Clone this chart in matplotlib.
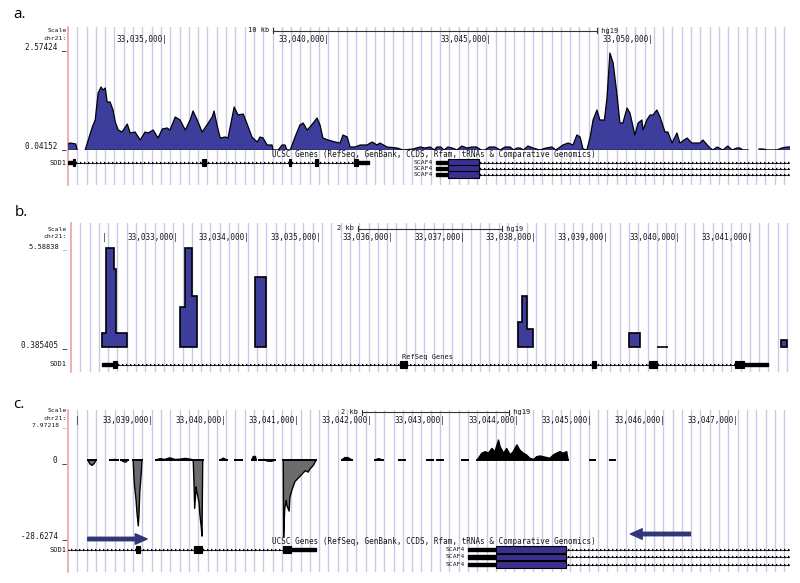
import numpy as np
import matplotlib
matplotlib.use("Agg")
import matplotlib.pyplot as plt
from matplotlib.patches import Rectangle, Polygon

nan = np.nan

# ---------------- panel a: coverage, chr21 position (kb) and signal ----------------
a_pos = [33031.94, 33032.01, 33032.18, 33032.22, 33032.30, 33032.47, 33032.69, 33032.78,
         33032.87, 33032.96, 33033.02, 33033.09, 33033.15, 33033.24, 33033.33, 33033.40,
         33033.49, 33033.61, 33033.77, 33033.86, 33034.01, 33034.17, 33034.32, 33034.41,
         33034.57, 33034.72, 33034.85, 33035.00, 33035.09, 33035.25, 33035.40, 33035.56,
         33035.71, 33035.80, 33035.93, 33036.08, 33036.23, 33036.39, 33036.45, 33036.54,
         33036.64, 33036.79, 33036.88, 33037.01, 33037.07, 33037.19, 33037.35, 33037.47,
         33037.62, 33037.78, 33037.87, 33037.96, 33038.09, 33038.24, 33038.27, 33038.43,
         33038.55, 33038.64, 33038.70, 33038.80, 33038.95, 33039.10, 33039.20, 33039.32,
         33039.41, 33039.51, 33039.63, 33039.72, 33039.81, 33039.97, 33040.19, 33040.34,
         33040.43, 33040.56, 33040.65, 33040.80, 33040.96, 33041.17, 33041.33, 33041.48,
         33041.57, 33041.79, 33042.10, 33042.28, 33042.59, 33042.81, 33042.96, 33043.12,
         33043.25, 33043.33, 33043.45, 33043.55, 33043.67, 33043.80, 33043.95, 33044.10,
         33044.25, 33044.41, 33044.55, 33044.70, 33044.81, 33044.95, 33045.12, 33045.28,
         33045.43, 33045.59, 33045.70, 33045.80, 33045.90, 33046.00, 33046.14, 33046.30,
         33046.50, 33046.70, 33046.88, 33047.00, 33047.22, 33047.38, 33047.53, 33047.65,
         33047.75, 33047.84, 33047.96, 33048.06, 33048.15, 33048.27, 33048.36, 33048.50,
         33048.58, 33048.67, 33048.77, 33048.89, 33048.98, 33049.07, 33049.20, 33049.29,
         33049.44, 33049.54, 33049.66, 33049.69, 33049.81, 33049.91, 33050.00, 33050.12,
         33050.22, 33050.37, 33050.46, 33050.59, 33050.74, 33050.83, 33051.05, 33051.20,
         33051.45, 33051.54, 33051.76, 33051.85, 33051.98, 33052.16, 33052.31, 33052.44,
         33052.59, 33052.68, 33052.78, 33052.93, 33053.10, 33053.27, 33053.40, 33053.52,
         33053.83, 33053.98, 33054.14, 33054.23]
a_val = [0.15, 0.175, 0.15, 0.0, nan, 0.0, 0.575, 0.75,
         1.425, 1.575, 1.5, 1.55, 1.2, 1.2, 1.0, 0.7,
         0.5, 0.45, 0.65, 0.425, 0.45, 0.25, 0.45, 0.425,
         0.5, 0.3, 0.525, 0.55, 0.5, 0.825, 0.75, 0.5,
         0.75, 0.975, 0.75, 0.45, 0.625, 0.825, 0.975, 0.625,
         0.3, 0.325, 0.3, 0.825, 1.075, 0.875, 0.9, 0.65,
         0.325, 0.2, 0.325, 0.3, 0.125, 0.125, 0.0, 0.0,
         0.125, 0.125, 0.0, 0.0, 0.325, 0.625, 0.675, 0.5,
         0.575, 0.675, 0.8, 0.625, 0.3, 0.25, 0.2, 0.175,
         0.375, 0.325, 0.075, 0.075, 0.125, 0.125, 0.2, 0.125,
         0.175, 0.075, 0.05, 0.0, 0.025, 0.075, 0.05, 0.075,
         0.0, 0.075, 0.075, 0.0, 0.075, 0.05, 0.0, 0.1,
         0.05, 0.075, 0.075, 0.0, 0.0, 0.075, 0.075, 0.0,
         0.075, 0.075, 0.0, 0.05, 0.05, 0.0, 0.1, 0.05,
         0.0, 0.05, 0.075, 0.0, 0.125, 0.175, 0.125, 0.375,
         0.325, 0.025, 0.0, 0.325, 0.75, 1.0, 0.75, 0.75,
         1.3, 2.425, 2.175, 1.375, 0.675, 0.675, 1.05, 0.925,
         0.375, 0.675, 0.75, 0.5, 0.75, 0.875, 0.875, 1.0,
         0.825, 0.45, 0.45, 0.175, 0.425, 0.175, 0.3, 0.175,
         0.175, 0.25, 0.05, 0.0, 0.075, 0.0, 0.1, 0.0,
         0.05, 0.05, 0.0, 0.0, nan, 0.025, 0.025, 0.0,
         0.0, 0.05, 0.075, 0.075]
a_ticks = [33035, 33040, 33045, 33050]

# ---------------- panel b: read blocks (kb) ----------------
b_start = [33031.94, 33032.00, 33032.11, 33032.14, 33033.03, 33033.10, 33033.20,
           33034.08, 33037.74, 33037.79, 33037.86, 33039.28, 33039.67, 33041.40]
b_end = [33032.00, 33032.11, 33032.14, 33032.29, 33033.10, 33033.20, 33033.27,
         33034.23, 33037.79, 33037.86, 33037.95, 33039.44, 33039.83, 33041.49]
b_val = [1.12, 5.58, 4.48, 1.12, 2.49, 5.58, 3.07,
         4.06, 1.70, 3.07, 1.33, 1.12, 0.385405, 0.75]
b_ticks = [33033, 33034, 33035, 33036, 33037, 33038, 33039, 33040, 33041]

# ---------------- panel c: signed signal (kb) ----------------
c_pos = [33038.11, 33038.14, 33038.17, 33038.20, 33038.22, 33038.30, 33038.41, 33038.48,
         33038.52, 33038.54, 33038.56, 33038.60, 33038.63, 33038.66, 33038.70, 33038.73,
         33038.74, 33038.75, 33038.77, 33038.78, 33038.80, 33038.81, 33038.82, 33038.84,
         33038.85, 33038.95, 33039.04, 33039.10, 33039.16, 33039.23, 33039.30, 33039.37,
         33039.44, 33039.51, 33039.55, 33039.56, 33039.57, 33039.59, 33039.60, 33039.61,
         33039.63, 33039.64, 33039.66, 33039.67, 33039.68, 33039.80, 33039.92, 33039.96,
         33040.01, 33040.06, 33040.12, 33040.22, 33040.28, 33040.35, 33040.37, 33040.40,
         33040.41, 33040.43, 33040.45, 33040.52, 33040.56, 33040.62, 33040.67, 33040.72,
         33040.78, 33040.785, 33040.79, 33040.80, 33040.82, 33040.83, 33040.86, 33040.87,
         33040.90, 33040.94, 33041.01, 33041.08, 33041.12, 33041.14, 33041.19, 33041.21,
         33041.23, 33041.40, 33041.58, 33041.62, 33041.66, 33041.72, 33041.90, 33042.03,
         33042.08, 33042.14, 33042.25, 33042.36, 33042.44, 33042.60, 33042.74, 33042.83,
         33042.855, 33042.88, 33042.96, 33043.10, 33043.22, 33043.30, 33043.36, 33043.43,
         33043.49, 33043.54, 33043.58, 33043.63, 33043.67, 33043.72, 33043.74, 33043.79,
         33043.83, 33043.88, 33043.92, 33043.97, 33044.01, 33044.06, 33044.10, 33044.15,
         33044.20, 33044.24, 33044.29, 33044.33, 33044.38, 33044.42, 33044.47, 33044.51,
         33044.56, 33044.60, 33044.65, 33044.67, 33044.80, 33044.97, 33045.04, 33045.14,
         33045.24, 33045.31]
c_val = [0, -1.5, -2.0, -1.2, 0, nan, 0, 0.2,
         0, nan, 0, -0.6, -0.8, 0, nan, 0,
         -6, -10, -15, -19, -24.5, -20, -12, -5,
         0, nan, 0, 0.5, 0.2, 0.8, 0.2, 0.3,
         0.6, 0.3, 0, -8, -18, -10, -12, -13,
         -16, -20, -25, -28.3, 0, nan, 0, 0.7,
         0, nan, 0, 0, nan, 0, 1.3, 1.3,
         0, nan, 0, 0.2, -0.4, -0.5, 0, nan,
         0, -28.6, -25, -18, -15, -17, -19, -14,
         -11, -8, -6, -4, -4.5, -3.5, -2, -1,
         0, nan, 0, 0.9, 0.9, 0, nan, 0,
         0.5, 0, nan, 0, 0, nan, 0, 0,
         nan, 0, 0, nan, 0, 0, nan, 0,
         2.5, 3.1, 2.5, 4.3, 3.1, 7.4, 5.0, 2.5,
         4.3, 1.9, 3.1, 5.6, 3.7, 2.5, 1.9, 0.6,
         0.2, 1.2, 1.5, 1.2, 0.9, 0.6, 1.9, 2.5,
         3.1, 2.5, 3.1, 0, nan, 0, 0, nan,
         0, 0]
c_ticks = [33039, 33040, 33041, 33042, 33043, 33044, 33045, 33046, 33047]

# ---------------- gene models (kb) ----------------
sod1_ex_start = [33031.94, 33036.09, 33038.77, 33039.56, 33040.77]
sod1_ex_end = [33032.15, 33036.19, 33038.83, 33039.67, 33041.22]
sod1_cds = [33032.10, 33040.89]
scaf4_ex_start = [33043.30]
scaf4_ex_end = [33044.64]
scaf4_cds = [33043.68, 33060.0]
scaf4_end = 33060.0

MONO = "DejaVu Sans Mono"
FS_L = 5.5    # single-row labels (coordinates, track titles)
FS = 5.0      # scale bar
FS_S = 4.6    # stacked labels
TXT = "#161616"
GRID = "#c9c9e6"
BLUE = "#3d3d9c"
NAVY = "#2f3777"
W, H = 800, 583

fig = plt.figure(figsize=(8, 5.83), dpi=100)
fig.patch.set_facecolor("white")


def px_axes(x0, y0, x1, y1):
    ax = fig.add_axes([x0 / W, 1 - y1 / H, (x1 - x0) / W, (y1 - y0) / H])
    ax.set_axis_off()
    ax.patch.set_alpha(0)
    return ax


def ftext(x, y, s, size=FS_S):
    fig.text(x / W, 1 - y / H, s, family=MONO, size=size, color=TXT, ha="right", va="center")


def frame(x0, x1, y0, y1, kb0, kb1):
    bg = px_axes(x0, y0, x1, y1)
    bg.set_xlim(kb0, kb1)
    bg.set_ylim(y1, y0)
    step = 9.3 * (kb1 - kb0) / (x1 - x0)
    for g in np.arange(kb0 + step, kb1, step):
        bg.axvline(g, color=GRID, lw=1, zorder=0)
    bg.axvline(kb0, color="#e6a3a3", lw=1.2, zorder=0, clip_on=False)
    return bg


def gene(ax, ex_s, ex_e, cds, y, end, cds_color="black"):
    ax.plot([ex_s[0], end], [y, y], color="black", lw=0.6, zorder=2)
    ax.plot([ex_s[0], end], [y, y], color="black", lw=1.6, ls=(0, (0.6, 1.2)), zorder=2)
    for s, e in zip(ex_s, ex_e):
        ax.add_patch(Rectangle((s, y - 1.7), e - s, 3.4, color="black", zorder=3))
        cs, ce = max(s, cds[0]), min(e, cds[1])
        if ce > cs:
            ax.add_patch(Rectangle((cs, y - 3.2), ce - cs, 6.4, fc=cds_color,
                                   ec="black", lw=0.8, zorder=4))


def scale_bar(ax, kb0, kb1, y, label):
    ax.plot([kb0, kb1], [y, y], color="#333333", lw=0.8)
    ax.plot([kb0, kb0], [y - 2.5, y + 2.5], color="#333333", lw=0.8)
    ax.plot([kb1, kb1], [y - 2.5, y + 2.5], color="#333333", lw=0.8)
    ax.text(kb0, y, label + " ", family=MONO, size=FS, color=TXT, ha="right", va="center")
    ax.text(kb1, y, " hg19", family=MONO, size=FS, color=TXT, ha="left", va="center")


def coords(ax, ticks, y):
    for t in ticks:
        ax.text(t, y, f"{t * 1000:,.0f}|", family=MONO, size=FS_L, color=TXT,
                ha="right", va="center")


UCSC = "UCSC Genes (RefSeq, GenBank, CCDS, Rfam, tRNAs & Comparative Genomics)"

# =============== panel a ===============
fig.text(13 / W, 1 - 15 / H, "a.", family="Open Sans", size=11, ha="left", va="center")
bg = frame(68, 790, 27, 185, 33031.94, 33054.23)
ftext(67, 31, "Scale")
ftext(67, 38, "chr21:")
ftext(67, 47, "2.57424 _", FS_L)
ftext(67, 146, "0.04152 _", FS_L)
ftext(67, 163, "SOD1", FS)
scale_bar(bg, 33038.27, 33048.27, 30.5, "10 kb")
coords(bg, a_ticks, 39)
bg.text(33043.24, 154.5, UCSC, family=MONO, size=FS_L, color=TXT, ha="center", va="center")
gene(bg, sod1_ex_start, sod1_ex_end, sod1_cds, 162.5, sod1_ex_end[-1])
for row in [162.5, 168.5, 174.5]:
    gene(bg, scaf4_ex_start, scaf4_ex_end, scaf4_cds, row, scaf4_end, cds_color="#3b2f8f")
    bg.text(33043.22, row, "SCAF4", family=MONO, size=FS_S, color=TXT, ha="right", va="center")

sa = px_axes(68, 46, 790, 150)
sa.set_xlim(33031.94, 33054.23)
sa.set_ylim(0, 2.6)
a_val_arr = np.array(a_val)
sa.fill_between(a_pos, 0, a_val_arr, color=BLUE, lw=0)
sa.plot(a_pos, a_val_arr, color="black", lw=0.9)
sa.plot(a_pos, np.where(np.isnan(a_val_arr), nan, 0.0), color="black", lw=1.0)

# =============== panel b ===============
fig.text(15 / W, 1 - 213 / H, "b.", family="Open Sans", size=11, ha="left", va="center")
bg = frame(71, 790, 223, 372, 33031.51, 33041.53)
ftext(67, 229, "Scale")
ftext(67, 237, "chr21:")
ftext(67, 246.5, "5.58838 _", FS)
ftext(67, 345, "0.385405 _", FS_L)
ftext(67, 364.5, "SOD1", FS)
scale_bar(bg, 33035.51, 33037.51, 228.5, "2 kb")
coords(bg, b_ticks, 237.5)
bg.text(33032.0, 237.5, "|", family=MONO, size=FS_L, color=TXT, ha="right", va="center")
bg.text(33036.12, 357.5, "RefSeq Genes", family=MONO, size=FS, color=TXT, ha="left", va="center")
gene(bg, sod1_ex_start, sod1_ex_end, sod1_cds, 364.5, sod1_ex_end[-1])

sb = px_axes(71, 248, 790, 347)
sb.set_xlim(33031.51, 33041.53)
sb.set_ylim(0.385405, 5.58838)
groups = []
for s, e, v in zip(b_start, b_end, b_val):
    if groups and abs(groups[-1][-1][1] - s) < 1e-6:
        groups[-1].append((s, e, v))
    else:
        groups.append([(s, e, v)])
for g in groups:
    pts = [(g[0][0], 0.385405)]
    for s, e, v in g:
        pts += [(s, v), (e, v)]
    pts.append((g[-1][1], 0.385405))
    sb.add_patch(Polygon(pts, closed=True, fc=BLUE, ec="black", lw=1.2, clip_on=False))

# =============== panel c ===============
fig.text(13 / W, 1 - 405 / H, "c.", family="Open Sans", size=11, ha="left", va="center")
bg = frame(68, 790, 410, 572, 33037.84, 33047.70)
ftext(67, 411, "Scale")
ftext(67, 418, "chr21:")
ftext(67, 425, "7.97218 _")
ftext(67, 460, "0 _", FS_L)
ftext(67, 536, "-28.6274 _", FS_L)
ftext(67, 549.5, "SOD1", FS)
scale_bar(bg, 33041.86, 33043.86, 412, "2 kb")
coords(bg, c_ticks, 420.5)
bg.text(33038.0, 420.5, "|", family=MONO, size=FS_L, color=TXT, ha="right", va="center")
bg.text(33042.84, 541, UCSC, family=MONO, size=FS_L, color=TXT, ha="center", va="center")
gene(bg, sod1_ex_start, sod1_ex_end, sod1_cds, 549.5, sod1_ex_end[-1])
for row in [549.5, 557, 564.5]:
    gene(bg, scaf4_ex_start, scaf4_ex_end, scaf4_cds, row, scaf4_end, cds_color="#3b2f8f")
    bg.text(33043.26, row, "SCAF4", family=MONO, size=FS_S, color=TXT, ha="right", va="center")
arrow = "simple,head_width=0.75,head_length=0.85,tail_width=0.25"
bg.annotate("", xy=(33038.92, 539), xytext=(33038.11, 539),
            arrowprops=dict(arrowstyle=arrow, color=NAVY, mutation_scale=10, shrinkA=0, shrinkB=0))
bg.annotate("", xy=(33045.52, 534), xytext=(33046.34, 534),
            arrowprops=dict(arrowstyle=arrow, color=NAVY, mutation_scale=10, shrinkA=0, shrinkB=0))

sc = px_axes(68, 423, 790, 537)
sc.set_xlim(33037.84, 33047.70)
sc.set_ylim(-28.6274, 13.75)
c_val_arr = np.array(c_val, dtype=float)
sc.fill_between(c_pos, 0, c_val_arr, where=c_val_arr < 0, interpolate=True, color="#6c6c6c", lw=0)
sc.fill_between(c_pos, 0, c_val_arr, where=c_val_arr > 0, interpolate=True, color="black", lw=0)
sc.plot(c_pos, c_val_arr, color="black", lw=1.0)
sc.plot(c_pos, np.where(np.isnan(c_val_arr), nan, 0.0), color="black", lw=1.4)

fig.savefig("out.png", dpi=100, facecolor="white")
